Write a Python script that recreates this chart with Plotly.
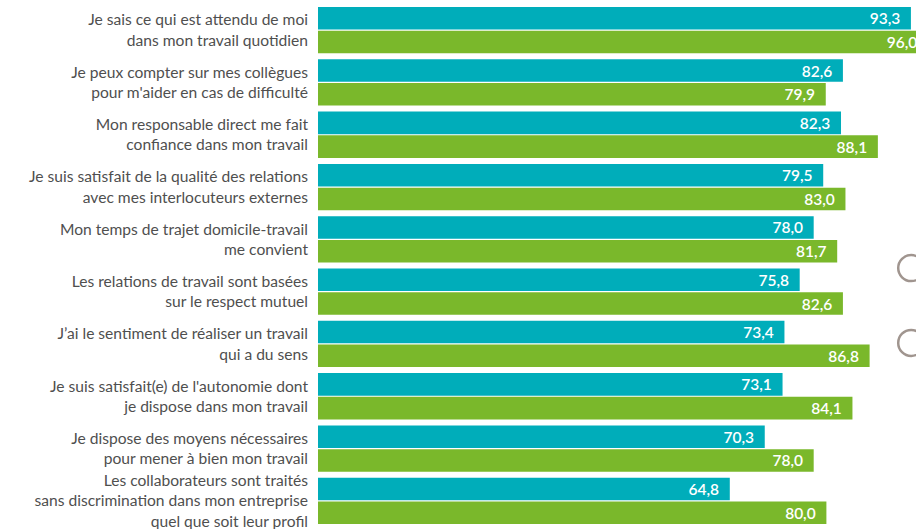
import plotly.graph_objects as go

# Survey statements (one category per row, top to bottom)
statements = [
    "Je sais ce qui est attendu de moi<br>dans mon travail quotidien",
    "Je peux compter sur mes collègues<br>pour m'aider en cas de difficulté",
    "Mon responsable direct me fait<br>confiance dans mon travail",
    "Je suis satisfait de la qualité des relations<br>avec mes interlocuteurs externes",
    "Mon temps de trajet domicile-travail<br>me convient",
    "Les relations de travail sont basées<br>sur le respect mutuel",
    "J’ai le sentiment de réaliser un travail<br>qui a du sens",
    "Je suis satisfait(e) de l'autonomie dont<br>je dispose dans mon travail",
    "Je dispose des moyens nécessaires<br>pour mener à bien mon travail",
    "Les collaborateurs sont traités<br>sans discrimination dans mon entreprise<br>quel que soit leur profil",
]

# Scores (%) for the two series
series_a = [93.3, 82.6, 82.3, 79.5, 78.0, 75.8, 73.4, 73.1, 70.3, 64.8]
series_b = [96.0, 79.9, 88.1, 83.0, 81.7, 82.6, 86.8, 84.1, 78.0, 80.0]

TEAL = "#00ADBA"
GREEN = "#7AB82B"
PAD = "\u00a0\u00a0"

positions = list(range(len(statements)))


def fmt(v):
    return f"{v:.1f}".replace(".", ",") + PAD


fig = go.Figure()
for vals, color in ((series_a, TEAL), (series_b, GREEN)):
    fig.add_trace(go.Bar(
        y=positions,
        x=vals,
        orientation="h",
        marker=dict(color=color, line=dict(width=0)),
        text=[fmt(v) for v in vals],
        textposition="inside",
        insidetextanchor="end",
        textangle=0,
        constraintext="none",
        insidetextfont=dict(family="Lato", size=15.5, color="white", weight=600),
        cliponaxis=True,
        hoverinfo="skip",
        showlegend=False,
    ))

# Decorative ring outlines at the right edge
for yc in (0.495, 0.352):
    fig.add_shape(
        type="circle", xref="paper", yref="paper",
        xsizemode="pixel", ysizemode="pixel",
        xanchor=0.992, yanchor=yc,
        x0=-13, x1=13, y0=-13, y1=13,
        line=dict(color="#A0958F", width=2.5),
        layer="above",
    )

fig.update_layout(
    width=916,
    height=529,
    margin=dict(l=318, r=0, t=4, b=0),
    paper_bgcolor="white",
    plot_bgcolor="white",
    barmode="group",
    bargap=0.093,
    bargroupgap=0.05,
    font=dict(family="Lato", color="#4F4F4F"),
    xaxis=dict(
        range=[0, 94.1],
        visible=False,
        fixedrange=True,
    ),
    yaxis=dict(
        tickmode="array",
        tickvals=positions,
        ticktext=statements,
        range=[len(statements) - 0.5, -0.5],
        showgrid=False,
        zeroline=False,
        showline=False,
        ticks="",
        ticklabelstandoff=9,
        ticklabeloverflow="allow",
        tickfont=dict(family="Lato", size=15.6, color="#4F4F4F"),
    ),
)

fig.write_html("out.html")
